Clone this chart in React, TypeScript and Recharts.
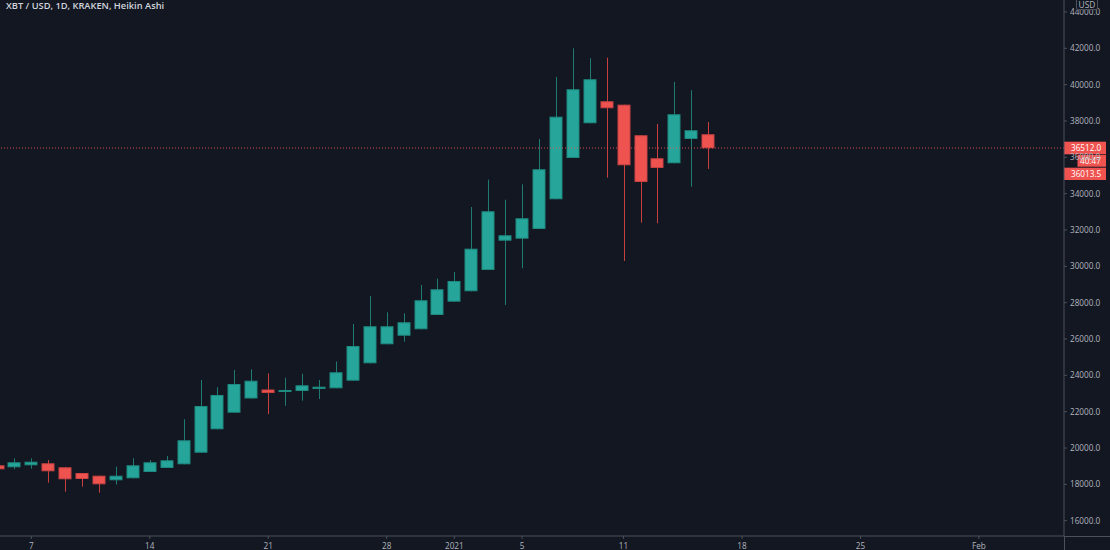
import React from 'react';
import { ComposedChart, Bar, XAxis, YAxis, ReferenceLine } from 'recharts';

const dates = [
  '2020-12-05', '2020-12-06', '2020-12-07', '2020-12-08', '2020-12-09', '2020-12-10', '2020-12-11',
  '2020-12-12', '2020-12-13', '2020-12-14', '2020-12-15', '2020-12-16', '2020-12-17', '2020-12-18',
  '2020-12-19', '2020-12-20', '2020-12-21', '2020-12-22', '2020-12-23', '2020-12-24', '2020-12-25',
  '2020-12-26', '2020-12-27', '2020-12-28', '2020-12-29', '2020-12-30', '2020-12-31', '2021-01-01',
  '2021-01-02', '2021-01-03', '2021-01-04', '2021-01-05', '2021-01-06', '2021-01-07', '2021-01-08',
  '2021-01-09', '2021-01-10', '2021-01-11', '2021-01-12', '2021-01-13', '2021-01-14', '2021-01-15',
  '2021-01-16',
];

const opens = [
  19049, 18939, 19049, 19159, 18939, 18625, 18477,
  18224, 18334, 18680, 18901, 19104, 19743, 21031,
  21944, 22726, 23221, 23100, 23139, 23249, 23287,
  23706, 24663, 25709, 26182, 26535, 27322, 28054,
  28626, 29799, 31411, 31521, 32055, 33690, 35963,
  37873, 39084, 38897, 37212, 35947, 35671, 37009,
  37268,
];

const highs = [
  19100, 19434, 19434, 19341, 18960, 18625, 18477,
  18972, 19434, 19341, 19561, 21581, 23744, 23342,
  24295, 24333, 24102, 23865, 24091, 23744, 24762,
  26826, 28367, 27470, 27415, 28973, 29320, 29688,
  33266, 34769, 33668, 34515, 37009, 40421, 42001,
  41451, 41484, 38897, 37212, 37835, 40146, 39689,
  37944,
];

const lows = [
  18780, 18829, 18862, 18092, 17596, 17871, 17541,
  17981, 18334, 18680, 18901, 19104, 19743, 21031,
  21944, 22726, 21862, 22324, 22605, 22698, 23287,
  23706, 24663, 25709, 25852, 26535, 27322, 28054,
  28626, 29799, 27872, 29892, 32055, 33690, 35963,
  37873, 34879, 30294, 32402, 32369, 35671, 34383,
  35358,
];

const closes = [
  18829, 19214, 19247, 18719, 18279, 18295, 18003,
  18477, 19049, 19214, 19324, 20425, 22313, 22918,
  23524, 23706, 23029, 23194, 23452, 23375, 24168,
  25615, 26700, 26700, 26920, 28131, 28736, 29193,
  30971, 33029, 31708, 32644, 35341, 38236, 39744,
  40295, 38699, 35561, 34642, 35413, 38368, 37488,
  36497,
];

const xTickDates = ['2020-12-07', '2020-12-14', '2020-12-21', '2020-12-28', '2021-01-01', '2021-01-05', '2021-01-11', '2021-01-18', '2021-01-25', '2021-02-01'];
const xTickLabels = ['7', '14', '21', '28', '2021', '5', '11', '18', '25', 'Feb'];
const yTicks = [16000, 18000, 20000, 22000, 24000, 26000, 28000, 30000, 32000, 34000, 36000, 38000, 40000, 42000, 44000];

const title = 'XBT / USD, 1D, KRAKEN, Heikin Ashi';
const currency = 'USD';
const lastPrice = 36512.0;
const countdown = '40:47';
const haClose = 36013.5;

const BG = '#131722';
const UP = '#26a69a';
const DOWN = '#ef5350';
const UP_BORDER = '#1f8a80';
const DOWN_BORDER = '#c94442';
const UP_WICK = '#1e7a72';
const DOWN_WICK = '#c6403f';
const AXIS = '#4c505b';
const TEXT = '#b2b5be';
const FONT = "'Open Sans', 'Noto Sans', sans-serif";
const FS = 8.2;

const DAY = 86400000;
const origin = Date.UTC(2020, 11, 7);
const toT = (s: string) => (Date.parse(s + 'T00:00:00Z') - origin) / DAY;

const data = dates.map((d, i) => ({
  t: toT(d),
  open: opens[i],
  high: highs[i],
  low: lows[i],
  close: closes[i],
  range: [lows[i], highs[i]],
}));

const xTicks = xTickDates.map(toT);
const xLabelOf = (v: number) => {
  const i = xTicks.findIndex((t) => Math.abs(t - v) < 1e-6);
  return i >= 0 ? xTickLabels[i] : '';
};

const Candle = (props: any) => {
  let { x, y, width, height } = props;
  const { payload } = props;
  if (!payload || x == null || y == null) return null;
  if (height < 0) {
    y = y + height;
    height = -height;
  }
  const { open, close, high, low } = payload;
  const span = high - low;
  const py = (v: number) => (span === 0 ? y : y + ((high - v) / span) * height);
  const up = close >= open;
  const cx = Math.round(x + width / 2);
  const top = py(Math.max(open, close));
  const bot = py(Math.min(open, close));
  const bw = 13;
  return (
    <g>
      <line x1={cx + 0.5} x2={cx + 0.5} y1={y} y2={y + height} stroke={up ? UP_WICK : DOWN_WICK} strokeWidth={1} />
      <rect
        x={cx - 6}
        y={top + 0.5}
        width={bw - 1}
        height={Math.max(bot - top - 1, 1)}
        fill={up ? UP : DOWN}
        stroke={up ? UP_BORDER : DOWN_BORDER}
        strokeWidth={1}
      />
    </g>
  );
};

const PriceTags = (props: any) => {
  const vb = props.viewBox || {};
  const x0 = (vb.x ?? 0) + (vb.width ?? 0);
  const y0 = vb.y ?? 0;
  return (
    <g style={{ fontFamily: FONT }}>
      <rect x={x0} y={y0 - 6.3} width={42} height={12.6} fill={DOWN} />
      <text x={x0 + 7} y={y0 + 3} fill="#ffffff" fontSize={FS}>{lastPrice.toFixed(1)}</text>
      <rect x={x0 + 13.5} y={y0 + 7} width={28.5} height={11.7} fill={DOWN} />
      <text x={x0 + 16} y={y0 + 15.9} fill="#ffffff" fontSize={FS}>{countdown}</text>
      <rect x={x0} y={y0 + 19.7} width={42} height={12.3} fill={DOWN} />
      <text x={x0 + 7} y={y0 + 28.9} fill="#ffffff" fontSize={FS}>{haClose.toFixed(1)}</text>
    </g>
  );
};

export default function App() {
  return (
    <div
      style={{
        position: 'fixed',
        left: 0,
        top: 0,
        width: 1110,
        height: 550,
        background: BG,
        overflow: 'hidden',
        fontFamily: FONT,
      }}
    >
      <ComposedChart width={1110} height={550} data={data} margin={{ top: 0, right: 0, left: 0, bottom: 0 }}>
        <XAxis
          dataKey="t"
          type="number"
          domain={[-1.85, 61.03]}
          allowDataOverflow
          ticks={xTicks}
          interval={0}
          tickFormatter={xLabelOf}
          height={14}
          tickSize={3}
          tickMargin={4}
          axisLine={{ stroke: AXIS }}
          tickLine={{ stroke: AXIS }}
          tick={{ fill: TEXT, fontSize: FS, fontFamily: FONT }}
        />
        <YAxis
          orientation="right"
          type="number"
          domain={[15158, 44657]}
          allowDataOverflow
          ticks={yTicks}
          interval={0}
          width={46}
          tickSize={3}
          tickMargin={3}
          tickFormatter={(v: number) => v.toFixed(1)}
          axisLine={{ stroke: AXIS }}
          tickLine={{ stroke: AXIS }}
          tick={{ fill: TEXT, fontSize: FS, fontFamily: FONT }}
        />
        <Bar dataKey="range" barSize={13} shape={<Candle />} isAnimationActive={false} />
        <ReferenceLine
          y={lastPrice}
          stroke={DOWN}
          strokeOpacity={0.85}
          strokeDasharray="1 2"
          ifOverflow="visible"
          label={<PriceTags />}
        />
      </ComposedChart>
      <div style={{ position: 'absolute', left: 1064, top: 536, width: 46, height: 1, background: AXIS }} />
      <div style={{ position: 'absolute', left: 1064, top: 536, width: 1, height: 14, background: AXIS }} />
      <div
        style={{
          position: 'absolute',
          left: 1076,
          top: -3,
          width: 20,
          height: 11,
          border: `1px solid ${AXIS}`,
          borderRadius: 2,
          background: BG,
          color: TEXT,
          fontSize: 8.4,
          lineHeight: '13px',
          textAlign: 'center',
        }}
      >
        {currency}
      </div>
      <div
        style={{
          position: 'absolute',
          left: 6,
          top: 0,
          color: '#d1d4dc',
          fontSize: 9.3,
          fontWeight: 600,
          whiteSpace: 'nowrap',
          lineHeight: '12px',
        }}
      >
        {title}
      </div>
    </div>
  );
}
